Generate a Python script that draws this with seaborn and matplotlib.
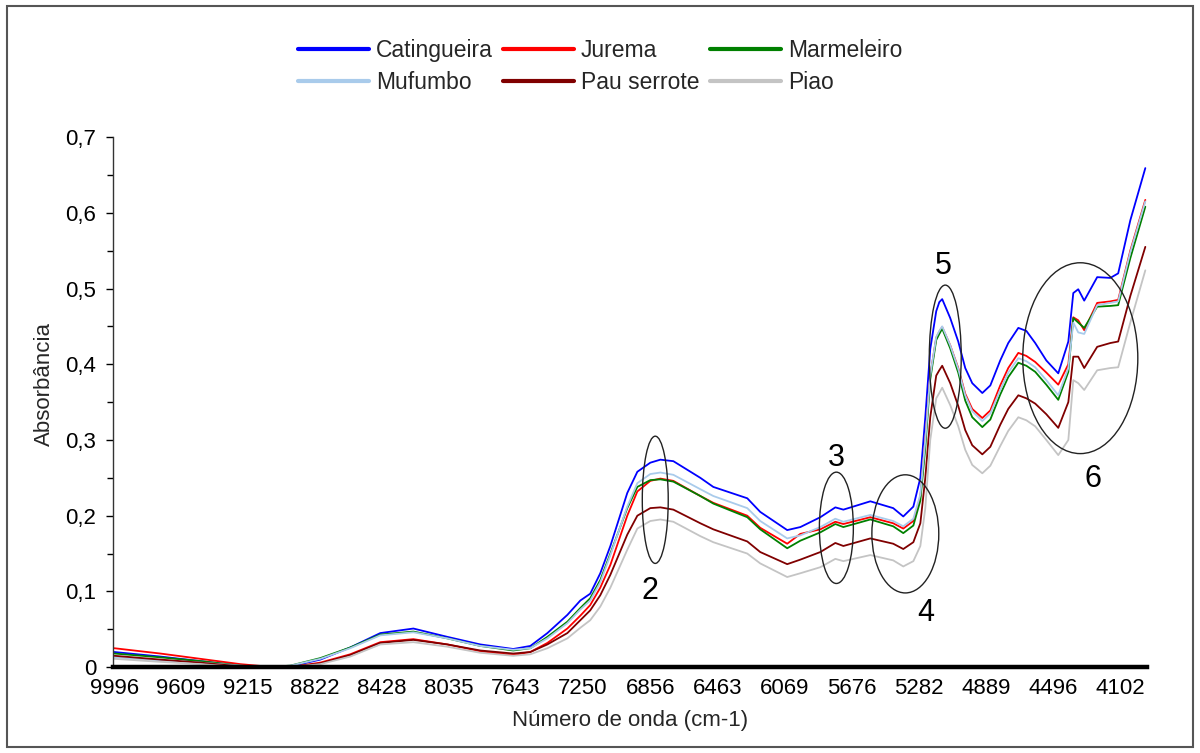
import matplotlib
matplotlib.use("Agg")
import matplotlib.pyplot as plt
from matplotlib.patches import Ellipse, Rectangle
from matplotlib.lines import Line2D
import numpy as np
import pandas as pd
import seaborn as sns

# ---------------- data ----------------
wavenumber = [9996, 9727, 9492, 9258, 9111, 8965, 8789, 8614, 8438, 8244, 8045, 7852,
              7659, 7559, 7459, 7342, 7266, 7208, 7149, 7090, 6991, 6932, 6856, 6797,
              6721, 6563, 6487, 6288, 6212, 6054, 5977, 5860, 5772, 5725, 5567, 5433,
              5374,
              5315, 5274, 5245, 5216, 5181, 5163, 5146, 5099, 5052, 5011, 4970, 4911,
              4864, 4806, 4759, 4700, 4653, 4601, 4536, 4466,
              4407, 4378, 4349, 4314, 4238, 4161, 4115, 4044, 3956]

catingueira = [0.020, 0.014, 0.008, 0.002, 0.000, 0.001, 0.010, 0.026, 0.045, 0.051, 0.040, 0.030,
               0.024, 0.028, 0.045, 0.069, 0.088, 0.097, 0.124, 0.160, 0.230, 0.258, 0.270, 0.274,
               0.272, 0.250, 0.238, 0.223, 0.205, 0.181, 0.185, 0.198, 0.211, 0.208, 0.219, 0.210,
               0.199,
               0.212, 0.250, 0.330, 0.420, 0.470, 0.482, 0.486, 0.461, 0.430, 0.395, 0.375, 0.362,
               0.372, 0.405, 0.428, 0.448, 0.444, 0.428, 0.405, 0.388,
               0.430, 0.494, 0.499, 0.484, 0.515, 0.514, 0.520, 0.590, 0.659]

jurema = [0.025, 0.018, 0.011, 0.004, 0.001, 0.000, 0.006, 0.017, 0.033, 0.037, 0.030, 0.021,
          0.016, 0.020, 0.032, 0.051, 0.068, 0.082, 0.105, 0.135, 0.200, 0.232, 0.246, 0.249,
          0.246, 0.226, 0.217, 0.200, 0.184, 0.163, 0.176, 0.182, 0.192, 0.189, 0.198, 0.190,
          0.183,
          0.193, 0.225, 0.300, 0.385, 0.435, 0.443, 0.449, 0.425, 0.395, 0.361, 0.341, 0.329,
          0.339, 0.372, 0.395, 0.415, 0.411, 0.403, 0.389, 0.373,
          0.400, 0.462, 0.458, 0.445, 0.481, 0.483, 0.485, 0.550, 0.617]

marmeleiro = [0.018, 0.013, 0.008, 0.002, 0.000, 0.002, 0.012, 0.026, 0.043, 0.047, 0.038, 0.028,
              0.022, 0.025, 0.040, 0.060, 0.078, 0.091, 0.115, 0.150, 0.210, 0.238, 0.247, 0.248,
              0.245, 0.226, 0.216, 0.198, 0.182, 0.157, 0.167, 0.178, 0.189, 0.185, 0.195, 0.186,
              0.177,
              0.187, 0.220, 0.290, 0.380, 0.432, 0.440, 0.447, 0.421, 0.389, 0.352, 0.330, 0.317,
              0.327, 0.360, 0.383, 0.402, 0.398, 0.390, 0.373, 0.353,
              0.390, 0.461, 0.455, 0.448, 0.476, 0.477, 0.478, 0.540, 0.608]

mufumbo = [0.013, 0.009, 0.006, 0.002, 0.000, 0.002, 0.011, 0.025, 0.042, 0.046, 0.038, 0.028,
           0.023, 0.025, 0.038, 0.058, 0.076, 0.088, 0.112, 0.148, 0.212, 0.243, 0.255, 0.257,
           0.254, 0.235, 0.226, 0.210, 0.193, 0.170, 0.174, 0.185, 0.196, 0.192, 0.201, 0.193,
           0.186,
           0.196, 0.228, 0.300, 0.385, 0.436, 0.444, 0.450, 0.425, 0.394, 0.359, 0.338, 0.325,
           0.335, 0.366, 0.389, 0.408, 0.404, 0.396, 0.379, 0.359,
           0.395, 0.455, 0.442, 0.440, 0.478, 0.481, 0.483, 0.548, 0.615]

pau_serrote = [0.015, 0.010, 0.006, 0.001, 0.000, 0.000, 0.005, 0.016, 0.032, 0.036, 0.030, 0.022,
               0.018, 0.020, 0.030, 0.045, 0.062, 0.075, 0.095, 0.122, 0.175, 0.200, 0.210, 0.211,
               0.208, 0.190, 0.182, 0.166, 0.152, 0.136, 0.142, 0.152, 0.164, 0.160, 0.170, 0.163,
               0.156,
               0.165, 0.190, 0.250, 0.330, 0.385, 0.392, 0.398, 0.375, 0.345, 0.313, 0.293, 0.281,
               0.291, 0.320, 0.341, 0.359, 0.355, 0.348, 0.334, 0.316,
               0.350, 0.410, 0.410, 0.395, 0.423, 0.428, 0.430, 0.490, 0.555]

piao = [0.011, 0.007, 0.004, 0.000, 0.000, 0.000, 0.004, 0.014, 0.030, 0.033, 0.027, 0.019,
        0.015, 0.017, 0.025, 0.038, 0.052, 0.062, 0.080, 0.105, 0.155, 0.183, 0.193, 0.195,
        0.192, 0.173, 0.165, 0.150, 0.137, 0.119, 0.124, 0.132, 0.143, 0.140, 0.148, 0.141,
        0.133,
        0.140, 0.160, 0.210, 0.300, 0.355, 0.362, 0.369, 0.346, 0.318, 0.287, 0.267, 0.256,
        0.266, 0.292, 0.312, 0.330, 0.326, 0.318, 0.300, 0.280,
        0.300, 0.379, 0.375, 0.366, 0.392, 0.395, 0.396, 0.455, 0.524]

species = ["Catingueira", "Jurema", "Marmeleiro", "Mufumbo", "Pau serrote", "Piao"]
colors = ["#0000FF", "#FF0000", "#008000", "#A9CBEB", "#800000", "#C4C4C4"]

x_ticks = [9996, 9609, 9215, 8822, 8428, 8035, 7643, 7250, 6856, 6463, 6069, 5676, 5282, 4889, 4496, 4102]
x_tick_labels = [str(v) for v in x_ticks]
y_ticks = [0, 0.1, 0.2, 0.3, 0.4, 0.5, 0.6, 0.7]
y_tick_labels = ["0", "0,1", "0,2", "0,3", "0,4", "0,5", "0,6", "0,7"]

# band annotations: label, ellipse center (wn, abs), width (cm-1), height (abs), text pos
band_labels = ["2", "3", "4", "5", "6"]
band_centers = [(6827, 0.221), (5766, 0.184), (5362, 0.176), (5128, 0.410), (4337, 0.408)]
band_widths = [152, 199, 392, 187, 674]
band_heights = [0.168, 0.147, 0.156, 0.189, 0.252]
band_text_pos = [(6856, 0.100), (5766, 0.276), (5245, 0.072), (5140, 0.530), (4265, 0.248)]

# ---------------- figure ----------------
series = [catingueira, jurema, marmeleiro, mufumbo, pau_serrote, piao]
df = pd.concat([pd.DataFrame({"wn": wavenumber, "abs": vals, "especie": name})
                for name, vals in zip(species, series)], ignore_index=True)

sns.set_style("white")
plt.rcParams["font.family"] = ["Liberation Sans", "DejaVu Sans"]

fig = plt.figure(figsize=(12, 7.53), dpi=100)
ax = fig.add_axes([0.094, 0.114, 0.862, 0.704])

sns.lineplot(data=df, x="wn", y="abs", hue="especie", hue_order=species,
             palette=dict(zip(species, colors)), linewidth=1.3, legend=False, ax=ax,
             estimator=None, sort=False)

ax.set_xlim(10005, 3945)
ax.set_ylim(0, 0.7)

ax.set_xticks(x_ticks)
ax.set_xticklabels(x_tick_labels)
ax.set_yticks(y_ticks)
ax.set_yticklabels(y_tick_labels)
ax.set_yticks(np.arange(0.05, 0.7, 0.1), minor=True)
ax.tick_params(axis="x", length=0, pad=8, labelsize=16, colors="black")
ax.tick_params(axis="y", which="major", direction="out", length=5, width=1, pad=7,
               labelsize=16, colors="black", left=True)
ax.tick_params(axis="y", which="minor", direction="out", length=4, width=1, left=True, color="black")

for side in ["top", "right"]:
    ax.spines[side].set_visible(False)
ax.spines["left"].set_color("#333333")
ax.spines["left"].set_linewidth(1.0)
ax.spines["bottom"].set_color("black")
ax.spines["bottom"].set_linewidth(3.2)

ax.set_xlabel("Número de onda (cm-1)", fontsize=16, labelpad=8)
ax.set_ylabel("Absorbância", fontsize=16)
ax.yaxis.set_label_coords(-0.056, 0.535)

for lab, c, w, h, tp in zip(band_labels, band_centers, band_widths, band_heights, band_text_pos):
    ax.add_patch(Ellipse(c, w, h, fill=False, edgecolor="#222222", linewidth=1.0, zorder=5))
    ax.text(tp[0], tp[1], lab, fontsize=22, ha="center", va="center", color="black")

# legend ordered row-wise (3 columns)
handles = {name: Line2D([0], [0], color=col, linewidth=3) for name, col in zip(species, colors)}
order = ["Catingueira", "Mufumbo", "Jurema", "Pau serrote", "Marmeleiro", "Piao"]
fig.legend([handles[n] for n in order], order, loc="upper center", bbox_to_anchor=(0.5, 0.975),
           ncol=3, frameon=False, fontsize=16.5, handlelength=3.1, handletextpad=0.3,
           columnspacing=0.45, labelspacing=0.38)

# outer frame
fig.patches.append(Rectangle((0.006, 0.008), 0.988, 0.984, transform=fig.transFigure,
                             fill=False, edgecolor="#555555", linewidth=1.5))

fig.savefig("out.png", dpi=100)
